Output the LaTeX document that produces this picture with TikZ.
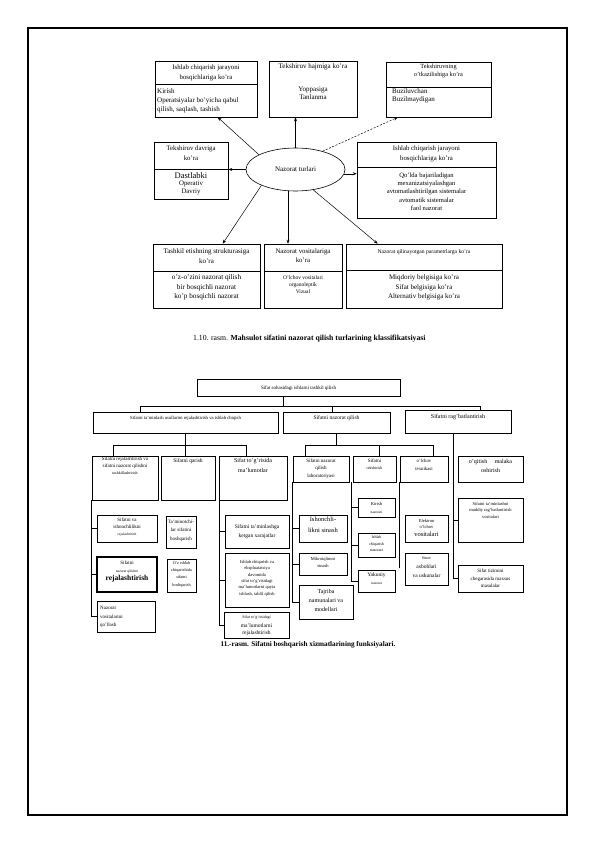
\documentclass[tikz,border=0pt]{standalone}
\usepackage{fontspec}
\setmainfont{Liberation Serif}
\usetikzlibrary{arrows.meta,shapes.geometric,fit}
\newcommand{\fsz}[2]{\fontsize{#1}{#2}\selectfont}
\begin{document}
\begin{tikzpicture}[x=1pt,y=-1pt,
  bx/.style={draw,line width=0.6pt,inner sep=0pt},
  bxb/.style={draw,line width=0.8pt,inner sep=0pt},
  bxt/.style={draw,line width=1.6pt,inner sep=0pt},
  tx/.style={inner sep=0pt,align=center,anchor=north},
  txl/.style={inner sep=0pt,align=left,anchor=north west},
  arr/.style={-{Stealth[length=4pt,width=3pt]},line width=0.5pt},
  dsh/.style={arr,dash pattern=on 2pt off 1.5pt},
  ln/.style={line width=0.8pt},
  sep/.style={line width=0.6pt}]
\useasboundingbox (0,0) rectangle (595,842);
\fill[white] (0,0) rectangle (595,842);
\draw[line width=1.4pt] (28,28) rectangle (567,815);

% ---------- first diagram ----------
\node[bx,fit={(155,61) (257,117)}] (b1) {};
\draw[sep] (155,84) -- (257,84);
\node[tx,font=\fsz{6.8}{10}] (h1) at (206,64.5) {Ishlab chiqarish jarayoni\\bosqichlariga ko'ra};
\node[txl,font=\fsz{7}{9}] (d1) at (157,88.5) {Kirish\\Operatsiyalar bo'yicha qabul\\qilish, saqlash, tashish};

\node[bx,fit={(269,61) (357,117)}] (b2) {};
\node[tx,font=\fsz{7}{8}] (h2) at (313,63.5) {Tekshiruv hajmiga ko'ra};
\node[tx,font=\fsz{7}{8}] (d2) at (313,86.5) {Yoppasiga\\Tanlanma};

\node[bx,fit={(386,62) (491,117)}] (b3) {};
\draw[sep] (386,87) -- (491,87);
\node[tx,font=\fsz{6.3}{7.5}] (h3) at (438.5,64) {Tekshiruvning\\o'tkazilishiga ko'ra};
\node[txl,font=\fsz{7}{8}] (d3) at (392,88.5) {Buziluvchan\\Buzilmaydigan};

\node[bx,fit={(154,142) (228,199)}] (b4) {};
\draw[sep] (154,169) -- (228,169);
\node[tx,font=\fsz{6.8}{10.5}] (h4) at (191,145.5) {Tekshiruv davriga\\ko'ra};
\node[tx,font=\fsz{8.5}{9}] (d4a) at (191,172) {Dastlabki};
\node[tx,font=\fsz{6.8}{8}] (d4b) at (191,181) {Operativ\\Davriy};

\node[draw,ellipse,line width=0.6pt,minimum width=99,minimum height=43,inner sep=0pt,font=\fsz{7}{8}] (nt) at (295.5,169.5) {Nazorat turlari};

\node[bx,fit={(357,142) (496,218)}] (b5) {};
\draw[sep] (357,167) -- (496,167);
\node[tx,font=\fsz{6.8}{10}] (h5) at (426.5,145.5) {Ishlab chiqarish jarayoni\\bosqichlariga ko'ra};
\node[tx,font=\fsz{6.6}{8.3}] (d5) at (426.5,172.5) {Qo'lda bajariladigan\\mexanizatsiyalashgan\\avtomatlashtirilgan sistemalar\\avtomatik sistemalar\\faol nazorat};

\node[bx,fit={(153,244) (260,308)}] (b6) {};
\draw[sep] (153,271) -- (260,271);
\node[tx,font=\fsz{7}{9.5}] (h6) at (206.5,248.5) {Tashkil etishning strukturasiga\\ko'ra};
\node[tx,font=\fsz{7.2}{9.5}] (d6) at (206.5,274.5) {o'z-o'zini nazorat qilish\\bir bosqichli nazorat\\ko'p bosqichli nazorat};

\node[bx,fit={(264,244) (342,308)}] (b7) {};
\draw[sep] (264,271) -- (342,271);
\node[tx,font=\fsz{6.8}{9.5}] (h7) at (303,248.5) {Nazorat vositalariga\\ko'ra};
\node[tx,font=\fsz{5.5}{7}] (d7) at (303,275.5) {O'lchov vositalari\\organoleptik\\Vizual};

\node[bx,fit={(346,244) (502,308)}] (b8) {};
\draw[sep] (346,270) -- (502,270);
\node[tx,font=\fsz{5.6}{6}] (h8) at (424,249.5) {Nazorat qilinayotgan parametrlarga ko'ra};
\node[tx,font=\fsz{7}{9.5}] (d8) at (424,274.5) {Miqdoriy belgisiga ko'ra\\Sifat belgisiga ko'ra\\Alternativ belgisiga ko'ra};

\draw[arr] (nt.158) -- ([xshift=63]b1.south west);
\draw[arr] (nt.north) -- (nt.north |- b2.south);
\draw[dsh] (nt.34) -- ([xshift=12]b3.south west);
\draw[arr] (nt.west) -- (nt.west -| b4.east);
\draw[arr] (nt.-5) -- (nt.-5 -| b5.west);
\draw[arr] (nt.205) -- ([xshift=70]b6.north west);
\draw[arr] ([xshift=-7.5]nt.south) -- ([xshift=-7.5]nt.south |- b7.north);
\draw[arr] (nt.-49.5) -- ([xshift=32]b8.north west);

\node[anchor=west,inner sep=0pt,font=\fsz{7.7}{9}] (cap1) at (193,339) {1.10. rasm. \textbf{Mahsulot sifatini nazorat qilish turlarining klassifikatsiyasi}};

% ---------- second diagram ----------
\node[bxb,fit={(197,379) (400,396)}] (T) {};
\node[tx,font=\fsz{5}{6}] (Tt) at (298.5,385.5) {Sifat sohasidagi ishlarni tashkil qilish};

\node[bxb,fit={(93,412) (278,433)}] (A) {};
\node[tx,font=\fsz{4.7}{6}] (At) at (185.5,415.5) {Sifatni ta'minlash usullarini rejalashtirish va ishlab chiqish};
\node[bxb,fit={(283,412) (390,433)}] (B) {};
\node[tx,font=\fsz{5.5}{6}] (Bt) at (336.5,415) {Sifatni nazorat qilish};
\node[bxb,fit={(405,410) (511,433)}] (C) {};
\node[tx,font=\fsz{6}{7}] (Ct) at (458,414.5) {Sifatni rag'batlantirish};

\node[bxb,fit={(92,456) (158,500)}] (L1) {};
\node[tx,font=\fsz{5}{7}] (L1t) at (125,457) {Sifatni rejalashtirish va\\sifatni nazorat qilishni};
\node[tx,font=\fsz{4}{5}] (L1u) at (125,471.5) {tashkillashtirish};
\node[bxb,fit={(161,456) (215,500)}] (L2) {};
\node[tx,font=\fsz{5.5}{7}] (L2t) at (188,458.5) {Sifatni qarish};
\node[bxb,fit={(219,456) (287,500)}] (L3) {};
\node[tx,font=\fsz{6}{10}] (L3t) at (253,458) {Sifat to'g'risida\\ma'lumotlar};
\node[bxb,fit={(293,456) (349,482)}] (M1) {};
\node[tx,font=\fsz{5}{7.5}] (M1t) at (321,458.5) {Sifatni nazorat\\qilish\\laboratoriyasi};
\node[bxb,fit={(353,456) (396,482)}] (M2) {};
\node[tx,font=\fsz{5}{6}] (M2t) at (374.5,458.5) {Sifatni};
\node[tx,font=\fsz{4}{5}] (M2u) at (374.5,466.5) {tekshirish};
\node[bxb,fit={(400,456) (448,482)}] (M3) {};
\node[tx,font=\fsz{4.8}{8}] (M3t) at (424,458.5) {o'lchov\\texnikasi};
\node[bxb,fit={(458,456) (523,482)}] (R1) {};
\node[tx,font=\fsz{6}{9}] (R1t) at (490.5,459) {o'qitish\quad\ malaka\\oshirish};

\node[bxb,fit={(97,515) (157,542)}] (L1a) {};
\node[tx,font=\fsz{5}{7}] (L1at) at (127,517.5) {Sifatni va\\ishonchlilikni};
\node[tx,font=\fsz{3.6}{4}] (L1au) at (127,532.5) {rejalashtirish};
\node[bxt,fit={(97,557) (157,592)}] (L1b) {};
\node[tx,font=\fsz{5}{6}] (L1bt) at (127,560.5) {Sifatni};
\node[tx,font=\fsz{3.6}{4}] (L1bu) at (127,569.5) {nazorat qilishni};
\node[tx,font=\bfseries\fsz{7.5}{8}] (L1bv) at (127,575.5) {rejalashtirish};
\node[bxb,fit={(97,601) (155,632)}] (L1c) {};
\node[txl,font=\fsz{5}{8.5}] (L1ct) at (100,606.5) {Nazorat\\vositalarini\\qo'llash};

\node[bxb,fit={(166,516) (196,548)}] (L2a) {};
\node[tx,font=\fsz{5}{8.5}] (L2at) at (181,519.5) {Ta'minotchi-\\lar sifatini\\boshqarish};
\node[bxb,fit={(167,559) (196,592)}] (L2b) {};
\node[tx,font=\fsz{4.2}{7.3}] (L2bt) at (181.5,561) {O'z ishlab\\chiqarishida\\sifatni\\boshqarish};

\node[bxb,fit={(225,515) (289,548)}] (L3a) {};
\node[tx,font=\fsz{5.5}{8.5}] (L3at) at (257,524.5) {Sifatni ta'minlashga\\ketgan xarajatlar};
\node[bxb,fit={(225,553) (289,607)}] (L3b) {};
\node[tx,font=\fsz{4.5}{6.4}] (L3bt) at (257,560) {Ishlab chiqarish va\\ekspluatatsiya\\davomida\\sifat to'g'risidagi\\ma'lumotlarni qayta\\ishlash, tahlil qilish};
\node[bxb,fit={(224,612) (289,638)}] (L3c) {};
\node[tx,font=\fsz{4}{5}] (L3ct) at (256.5,615.5) {Sifat to'g'risidagi};
\node[tx,font=\fsz{5.5}{7.5}] (L3cu) at (256.5,623) {ma'lumotlarni\\rejalashtirish};

\node[bxb,fit={(299,515) (347,542)}] (M1a) {};
\node[tx,font=\fsz{6.5}{11}] (M1at) at (323,516.5) {Ishonchli-\\likni sinash};
\node[bxb,fit={(299,553) (347,575)}] (M1b) {};
\node[tx,font=\fsz{4.5}{7}] (M1bt) at (323,557) {Mikroiqlimni\\sinash};
\node[bxb,fit={(299,585) (353,619)}] (M1c) {};
\node[tx,font=\fsz{6}{9}] (M1ct) at (326,589.5) {Tajriba\\namunalari va\\modellari};

\node[bxb,fit={(358,498) (395,517)}] (M2a) {};
\node[tx,font=\fsz{4.5}{5}] (M2at) at (376.5,502) {Kirish};
\node[tx,font=\fsz{3.6}{4}] (M2au) at (376.5,510.5) {nazorati};
\node[bxb,fit={(358,533) (395,557)}] (M2b) {};
\node[tx,font=\fsz{4}{6.5}] (M2bt) at (376.5,536) {Ishlab\\chiqarish\\nazorati};
\node[bxb,fit={(358,570) (395,592)}] (M2c) {};
\node[tx,font=\fsz{5.5}{6}] (M2ct) at (376.5,572.5) {Yakuniy};
\node[tx,font=\fsz{3.6}{4}] (M2cu) at (376.5,582.5) {nazorat};

\node[bxb,fit={(405,515) (448,542)}] (M3a) {};
\node[tx,font=\fsz{4.5}{6}] (M3at) at (426.5,519) {Elektron\\o'lchov};
\node[tx,font=\fsz{6.5}{7}] (M3au) at (426.5,532) {vositalari};
\node[bxb,fit={(405,553) (448,585)}] (M3b) {};
\node[tx,font=\fsz{4}{5}] (M3bt) at (426.5,557) {Sinov};
\node[tx,font=\fsz{5.5}{9}] (M3bu) at (426.5,564.5) {asboblari\\va uskunalar};

\node[bxb,fit={(458,498) (523,542)}] (R2) {};
\node[tx,font=\fsz{4.5}{6.5}] (R2t) at (490.5,502) {Sifatni ta'minlashni\\moddiy rag'batlantirish\\vositalari};
\node[bxb,fit={(458,565) (523,592)}] (R3) {};
\node[tx,font=\fsz{5}{7.5}] (R3t) at (490.5,569) {Sifat tizimini\\chegarasida maxsus\\masalalar};

% connectors
\draw[ln] ([xshift=-15.5]T.south) -- ++(0,11);
\draw[ln] ([xshift=-45.5]A.north) -- ++(0,-5) -| ([xshift=22]C.north);
\draw[ln] ([xshift=-4.5]B.north) -- ++(0,-5);

\draw[ln] (A.south) -- (A.south |- L2.north);
\draw[ln] ([xshift=-12]L1.north) -- ++(0,-10) -| ([xshift=-7]L3.north);
\draw[ln] (B.south) -- ++(0,13);
\draw[ln] ([xshift=-16]M1.north) -- ++(0,-10) -| ([xshift=9]M3.north);
\draw[ln] ([xshift=4.5]M2.north) -- ++(0,-10);
\draw[ln] ([xshift=-5]C.south) |- (R3.west);
\draw[ln] ([xshift=-5]C.south |- R2.west) -- (R2.west);

\draw[ln] (L1.south west) |- (L1c.west);
\draw[ln] (L1.south west |- L1a.west) -- (L1a.west);
\draw[ln] (L1.south west |- L1b.west) -- (L1b.west);
\draw[ln] ([xshift=1]L3.south west) |- (L3c.west);
\draw[ln] ([xshift=1]L3.south west |- L3a.west) -- (L3a.west);
\draw[ln] ([xshift=1]L3.south west |- L3b.west) -- (L3b.west);
\draw[ln] (M1.south west) |- (M1c.west);
\draw[ln] (M1.south west |- M1a.west) -- (M1a.west);
\draw[ln] (M1.south west |- M1b.west) -- (M1b.west);
\draw[ln] ([xshift=-1]M2.south west) |- (M2c.west);
\draw[ln] ([xshift=-1]M2.south west |- M2a.west) -- (M2a.west);
\draw[ln] ([xshift=-1]M2.south west |- M2b.west) -- (M2b.west);
\draw[ln] (M3.south west) -- ++(0,86);

\node[inner sep=0pt,font=\bfseries\fsz{7.2}{8}] (cap2) at (308,645) {11.-rasm. Sifatni boshqarish xizmatlarining funksiyalari.};
\end{tikzpicture}
\end{document}
